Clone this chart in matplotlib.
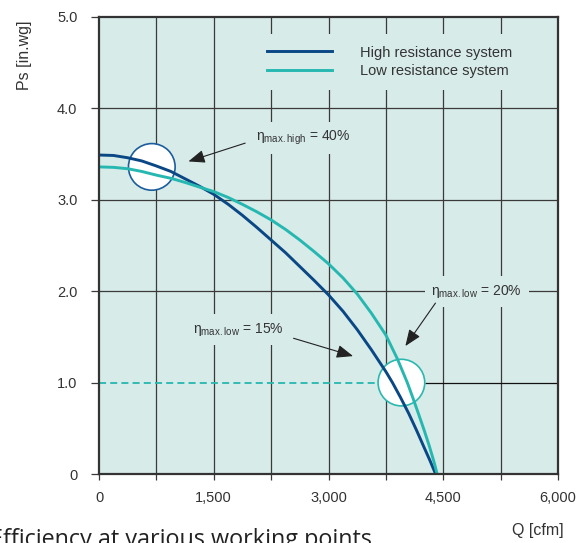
import matplotlib
matplotlib.use("Agg")
import matplotlib.pyplot as plt
from matplotlib.patches import Ellipse
import numpy as np

plt.rcParams["font.family"] = ["Liberation Sans", "DejaVu Sans"]
plt.rcParams["mathtext.fontset"] = "custom"
plt.rcParams["mathtext.rm"] = "Liberation Sans"
plt.rcParams["mathtext.it"] = "Liberation Sans:italic"

# fan curves: Q [cfm] vs Ps [in.wg]
q_high = [0, 190, 375, 560, 750, 940, 1125, 1310, 1500, 1690, 1875, 2060, 2250, 2440,
          2625, 2810, 3000, 3190, 3375, 3560, 3750, 3836, 3940, 4050, 4150, 4245, 4330, 4400]
ps_high = [3.49, 3.485, 3.46, 3.425, 3.37, 3.31, 3.23, 3.15, 3.06, 2.95, 2.83, 2.70, 2.56, 2.42,
           2.27, 2.12, 1.96, 1.78, 1.58, 1.36, 1.12, 1.0, 0.84, 0.66, 0.48, 0.30, 0.14, 0.0]

q_low = [0, 190, 375, 560, 750, 940, 1125, 1310, 1500, 1690, 1875, 2060, 2250, 2440,
         2625, 2810, 3000, 3190, 3375, 3560, 3750, 3900, 4030, 4100, 4180, 4250, 4320, 4380, 4420]
ps_low = [3.36, 3.355, 3.34, 3.31, 3.27, 3.235, 3.19, 3.14, 3.09, 3.025, 2.95, 2.87, 2.78, 2.675,
          2.56, 2.435, 2.30, 2.145, 1.97, 1.76, 1.52, 1.26, 1.0, 0.84, 0.65, 0.48, 0.30, 0.13, 0.0]

series_labels = ["High resistance system", "Low resistance system"]

# operating points (circles)
point_high = (690, 3.36)
point_low = (3953, 1.0)

x_ticks = [0, 750, 1500, 2250, 3000, 3750, 4500, 5250, 6000]
x_tick_labels = ["0", "", "1,500", "", "3,000", "", "4,500", "", "6,000"]
y_ticks = [0, 1, 2, 3, 4, 5]
y_tick_labels = ["0", "1.0", "2.0", "3.0", "4.0", "5.0"]

notes = [r"$\mathrm{\eta}_{\mathrm{max.high}}$ = 40%",
         r"$\mathrm{\eta}_{\mathrm{max.low}}$ = 20%",
         r"$\mathrm{\eta}_{\mathrm{max.low}}$ = 15%"]

bg = "#d7ebe9"
blue = "#0a4785"
teal = "#26b8b0"
gridc = "#3a3a3a"

fig = plt.figure(figsize=(5.84, 5.43), dpi=100)
ax = fig.add_axes([99 / 584, 69 / 543, 459 / 584, 457 / 543])
ax.set_facecolor(bg)
ax.set_xlim(0, 6000)
ax.set_ylim(0, 5)

# grid
for x in x_ticks[1:-1]:
    ax.axvline(x, color=gridc, lw=0.9, zorder=1)
for y in [2, 3, 4]:
    ax.axhline(y, color=gridc, lw=0.9, zorder=1)

# circle radius in data units (~23 px)
rx, ry = 305, 0.255
ax.hlines(1.0, 0, point_low[0] - rx, colors=teal, lw=1.3, linestyles=(0, (3.9, 2.3)), zorder=2)
ax.hlines(1.0, point_low[0] + rx, 6000, colors="#111111", lw=0.9, zorder=1)

ax.add_patch(Ellipse(point_high, 2 * rx, 2 * ry, fc="white", ec="#1b5d9c", lw=1.2, zorder=3))
ax.add_patch(Ellipse(point_low, 2 * rx, 2 * ry, fc="white", ec="#2bb8ae", lw=1.2, zorder=3))

ax.plot(q_high, ps_high, color=blue, lw=2.1, label=series_labels[0], zorder=4, solid_joinstyle="round")
ax.plot(q_low, ps_low, color=teal, lw=2.1, label=series_labels[1], zorder=4, solid_joinstyle="round")

leg = ax.legend(loc="upper left", bbox_to_anchor=(0.340, 0.963), borderaxespad=0,
                fontsize=10.5, handlelength=4.5, handletextpad=1.9, labelspacing=0.3,
                borderpad=0.8, frameon=True, fancybox=False, framealpha=1,
                facecolor=bg, edgecolor="none")
for t in leg.get_texts():
    t.set_color("#333333")

box = dict(boxstyle="square,pad=0.5", fc=bg, ec="none")
ax.text(2055, 3.68, notes[0], fontsize=10, color="#333333", ha="left", va="center", bbox=box, zorder=5)
ax.text(4346, 2.0, notes[1], fontsize=10, color="#333333", ha="left", va="center", bbox=box, zorder=5)
ax.text(1230, 1.58, notes[2], fontsize=10, color="#333333", ha="left", va="center", bbox=box, zorder=5)

arrow = dict(arrowstyle="-|>,head_length=0.5,head_width=0.2", color="#222222", lw=0.8,
             mutation_scale=20, shrinkA=0, shrinkB=0)
ax.annotate("", xy=(1169, 3.42), xytext=(1911, 3.62), arrowprops=arrow, zorder=5)
ax.annotate("", xy=(4005, 1.40), xytext=(4398, 1.87), arrowprops=arrow, zorder=5)
ax.annotate("", xy=(3321, 1.29), xytext=(2543, 1.485), arrowprops=arrow, zorder=5)

ax.set_xticks(x_ticks)
ax.set_xticklabels(x_tick_labels)
ax.set_yticks(y_ticks)
ax.set_yticklabels(y_tick_labels)
ax.tick_params(axis="y", direction="out", length=5.5, width=0.9, pad=10, labelsize=10.5,
               labelcolor="#333333", color=gridc)
ax.tick_params(axis="x", direction="out", length=4, width=0.9, pad=8, labelsize=10.5,
               labelcolor="#333333", color=gridc)
for s in ax.spines.values():
    s.set_color("#333333")
    s.set_linewidth(1.6)
    s.set_zorder(6)

fig.text(25 / 584, 1 - 20 / 543, "Ps [in.wg]", rotation=90, ha="center", va="top",
         fontsize=11.5, color="#333333")
fig.text(564 / 584, 1 - 530 / 543, "Q [cfm]", ha="right", va="center",
         fontsize=11.5, color="#333333")
# caption under the chart, cut off by the bottom edge as in the original
fig.text(-10 / 584, 1 - 546 / 543, "Efficiency at various working points", ha="left",
         va="baseline", fontsize=16.8, color="#222222", family=["Open Sans", "DejaVu Sans"])

fig.savefig("out.png", dpi=100)
